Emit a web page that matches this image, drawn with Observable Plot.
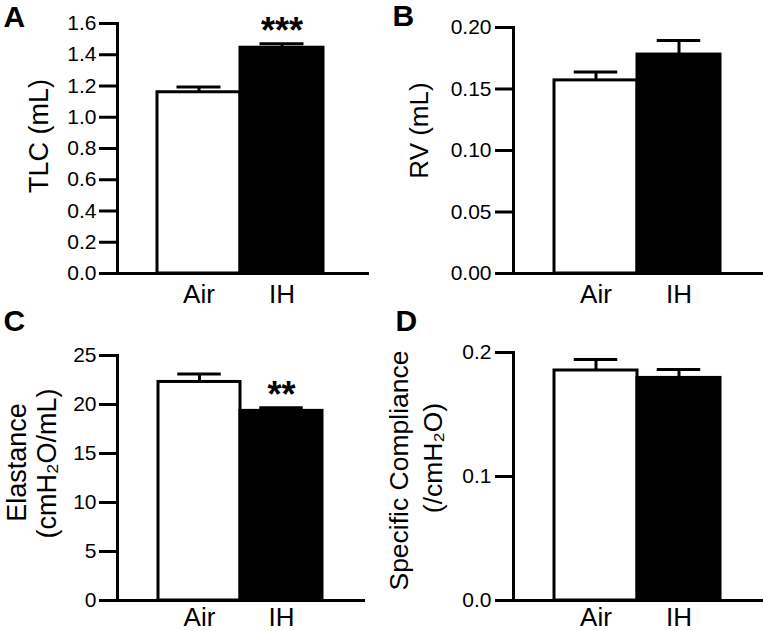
<!DOCTYPE html>
<html>
<head>
<meta charset="utf-8">
<script src="https://cdn.jsdelivr.net/npm/d3@7"></script>
<script src="https://cdn.jsdelivr.net/npm/@observablehq/plot@0.6"></script>
<style>
  body { margin: 0; background: white; }
  #wrap { position: relative; width: 763px; height: 631px; background: white; overflow: hidden; }
  .panel { position: absolute; }
</style>
</head>
<body>
<div id="wrap"></div>
<script>
// ---- data ----
const groups = ["Air", "IH"];
const barFills = ["white", "black"];

const tlcMean = [1.16, 1.445];
const tlcSem = [0.034, 0.026];
const tlcStars = ["", "***"];
const tlcTicks = [0, 0.2, 0.4, 0.6, 0.8, 1.0, 1.2, 1.4, 1.6];

const rvMean = [0.157, 0.178];
const rvSem = [0.0068, 0.0115];
const rvTicks = [0, 0.05, 0.10, 0.15, 0.20];

const elastMean = [22.3, 19.35];
const elastSem = [0.82, 0.32];
const elastStars = ["", "**"];
const elastTicks = [0, 5, 10, 15, 20, 25];

const compMean = [0.1855, 0.1795];
const compSem = [0.0088, 0.0068];
const compTicks = [0, 0.1, 0.2];

const panelLetters = ["A", "B", "C", "D"];

// ---- drawing ----
function makePanel(cfg) {
  const rows = groups.map((g, i) => ({
    group: g, mean: cfg.mean[i], sem: cfg.sem[i], star: cfg.stars ? cfg.stars[i] : ""
  }));
  const frameMidY = (cfg.mt + cfg.height - cfg.mb) / 2;
  const bw = (cfg.xr[1] - cfg.xr[0]) / groups.length;
  const inset = (bw - 44) / 2;
  const marks = [
    Plot.barY(rows, {x: "group", y: "mean", fill: "group", stroke: "black", strokeWidth: 3}),
    Plot.ruleX(rows, {x: "group", y1: "mean", y2: d => d.mean + d.sem, stroke: "black", strokeWidth: 3}),
    Plot.tickY(rows, {x: "group", y: d => d.mean + d.sem, stroke: "black", strokeWidth: 3, insetLeft: inset, insetRight: inset}),
    Plot.frame({anchor: "left", stroke: "black", strokeWidth: 3}),
    Plot.frame({anchor: "bottom", stroke: "black", strokeWidth: 3}),
    Plot.axisY({ticks: cfg.ticks, tickFormat: cfg.fmt, tickSize: 18, tickPadding: cfg.tp, fontSize: 21, stroke: "black", strokeWidth: 3, label: null}),
    Plot.axisX({tickSize: 0, tickPadding: cfg.xpad, fontSize: 26, label: null}),
    Plot.text(rows.filter(d => d.star), {x: "group", y: d => d.mean + d.sem, text: "star", fontSize: 36, fontWeight: "bold", lineAnchor: "bottom", dy: -1, fill: "black"}),
    Plot.text([cfg.letter], {frameAnchor: "top-left", text: d => d, fontSize: 30, fontWeight: "bold", textAnchor: "start", lineAnchor: "bottom", dx: cfg.letterX - cfg.ml, dy: cfg.letterY - cfg.mt, fill: "black"}),
    ...cfg.ylabels.map(l => Plot.text([l.text], {
      frameAnchor: "left", text: d => d, rotate: -90, fontSize: cfg.labelSize,
      textAnchor: "middle", lineAnchor: "bottom",
      dx: l.x - cfg.ml, dy: l.cy - frameMidY, fill: "black"
    }))
  ];
  const svg = Plot.plot({
    width: cfg.width, height: cfg.height,
    marginTop: cfg.mt, marginBottom: cfg.mb, marginLeft: cfg.ml, marginRight: cfg.mr,
    style: {fontFamily: "'Liberation Sans', Arial, sans-serif", background: "transparent", overflow: "visible", color: "black"},
    x: {domain: groups, range: cfg.xr, padding: 0},
    y: {domain: [cfg.ticks[0], cfg.ticks[cfg.ticks.length - 1]]},
    color: {domain: groups, range: barFills},
    marks
  });
  const div = document.createElement("div");
  div.className = "panel";
  div.style.left = cfg.left + "px";
  div.style.top = cfg.top + "px";
  div.appendChild(svg);
  document.getElementById("wrap").appendChild(div);
}

makePanel({
  left: 0, top: 0, width: 380, height: 310, mt: 23, mb: 37, ml: 117, mr: 13, xr: [157, 323], tp: 3, xpad: 11,
  mean: tlcMean, sem: tlcSem, stars: tlcStars, ticks: tlcTicks, fmt: d3.format(".1f"),
  letter: panelLetters[0], letterX: 3, letterY: 26, labelSize: 27,
  ylabels: [{text: "TLC (mL)", x: 47.5, cy: 135.5}]
});
makePanel({
  left: 380, top: 0, width: 383, height: 310, mt: 27, mb: 37, ml: 133, mr: 1, xr: [173, 340], tp: 4, xpad: 11,
  mean: rvMean, sem: rvSem, stars: null, ticks: rvTicks, fmt: d3.format(".2f"),
  letter: panelLetters[1], letterX: 12, letterY: 25, labelSize: 26,
  ylabels: [{text: "RV (mL)", x: 47.5, cy: 130}]
});
makePanel({
  left: 0, top: 300, width: 380, height: 331, mt: 55, mb: 31, ml: 117, mr: 17, xr: [157, 322], tp: 3, xpad: 7,
  mean: elastMean, sem: elastSem, stars: elastStars, ticks: elastTicks, fmt: d3.format("d"),
  letter: panelLetters[2], letterX: 3, letterY: 30, labelSize: 27,
  ylabels: [{text: "Elastance", x: 25, cy: 162}, {text: "(cmH₂O/mL)", x: 55, cy: 163}]
});
makePanel({
  left: 380, top: 300, width: 383, height: 331, mt: 52, mb: 31, ml: 133, mr: 1, xr: [173, 340], tp: 4, xpad: 7,
  mean: compMean, sem: compSem, stars: null, ticks: compTicks, fmt: d3.format(".1f"),
  letter: panelLetters[3], letterX: 15, letterY: 30, labelSize: 26.5,
  ylabels: [{text: "Specific Compliance", x: 27.5, cy: 170}, {text: "(/cmH₂O)", x: 61.5, cy: 157.5}]
});
</script>
</body>
</html>
